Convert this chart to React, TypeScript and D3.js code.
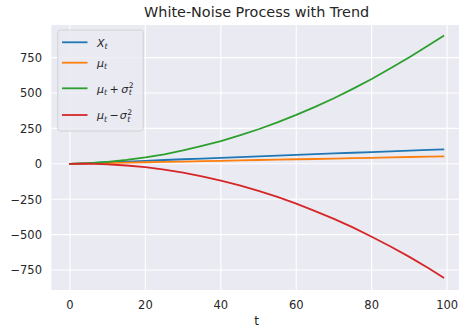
import React from "react";
import * as d3 from "d3";

const tValues = [0, 5, 10, 15, 20, 25, 30, 35, 40, 45, 50, 55, 60, 65, 70, 75, 80, 85, 90, 95, 99];
const xSeries = [0, 5, 11, 16, 21, 27, 32, 37, 42, 47, 53, 58, 63, 68, 73, 78, 83, 88, 93, 98, 102];
const muSeries = [0, 3, 5, 8, 11, 13, 16, 19, 21, 24, 27, 29, 32, 34, 37, 40, 42, 45, 48, 50, 52];
const upperSeries = [0, 5, 14, 28, 46, 67, 94, 126, 160, 200, 244, 292, 345, 402, 463, 529, 599, 674, 753, 835, 903];
const lowerSeries = [0, 1, -4, -12, -24, -41, -62, -88, -118, -152, -191, -234, -281, -334, -389, -449, -515, -584, -657, -735, -803];
const xTicks = [0, 20, 40, 60, 80, 100];
const yTicks = [-750, -500, -250, 0, 250, 500, 750];
const seriesNames = ["X_t", "mu_t", "mu_t + sigma_t^2", "mu_t - sigma_t^2"];
const colors = ["#1f77b4", "#ff7f0e", "#2ca02c", "#d62728"];

const W = 459;
const H = 330;
const left = 51.3;
const right = 462;
const top = 25;
const bottom = 290;

export default function App() {
  const x = d3.scaleLinear().domain([-4.95, 103.95]).range([left, right]);
  const y = d3.scaleLinear().domain([-891, 980]).range([bottom, top]);
  const all = [xSeries, muSeries, upperSeries, lowerSeries];
  const line = d3
    .line<[number, number]>()
    .x((d) => x(d[0]))
    .y((d) => y(d[1]));
  const font = "'DejaVu Sans', sans-serif";
  const tc = "#262626";
  const legendY = [42.3, 62.7, 88.3, 115];

  const label = (i: number, yy: number) => {
    const base = yy + 4.3;
    const fs = 11;
    const ss = 7.7;
    if (i === 0)
      return (
        <text x={97} y={base} fontFamily={font} fontSize={fs} fill={tc} fontStyle="italic">
          X<tspan fontSize={ss} dy={2.2}>t</tspan>
        </text>
      );
    if (i === 1)
      return (
        <text x={97} y={base} fontFamily={font} fontSize={fs} fill={tc} fontStyle="italic">
          μ<tspan fontSize={ss} dy={2.2}>t</tspan>
        </text>
      );
    const op = i === 2 ? "+" : "−";
    return (
      <text x={97} y={base} fontFamily={font} fontSize={fs} fill={tc} fontStyle="italic">
        μ<tspan fontSize={ss} dy={2.2}>t</tspan>
        <tspan dy={-2.2} fontStyle="normal" dx={2.5}>{op}</tspan>
        <tspan dx={i === 2 ? 2.5 : 1}>σ</tspan>
        <tspan fontSize={ss} fontStyle="normal" dy={-4.6} dx={0.5}>2</tspan>
        <tspan fontSize={ss} dy={7.2} dx={-4.9}>t</tspan>
      </text>
    );
  };

  return (
    <svg width={W} height={H} style={{ position: "fixed", left: 0, top: 0, background: "#fff" }}>
      <defs>
        <clipPath id="clip">
          <rect x={left} y={top} width={right - left} height={bottom - top} />
        </clipPath>
      </defs>
      <rect x={left} y={top} width={right - left} height={bottom - top} fill="#EAEAF2" />
      {xTicks.map((t) => (
        <line key={"gx" + t} x1={x(t)} x2={x(t)} y1={top} y2={bottom} stroke="#fff" strokeWidth={1.1} />
      ))}
      {yTicks.map((t) => (
        <line key={"gy" + t} x1={left} x2={right} y1={y(t)} y2={y(t)} stroke="#fff" strokeWidth={1.1} />
      ))}
      <g clipPath="url(#clip)">
        {all.map((s, i) => (
          <path
            key={seriesNames[i]}
            d={line(tValues.map((t, j) => [t, s[j]] as [number, number])) || ""}
            fill="none"
            stroke={colors[i]}
            strokeWidth={1.8}
            strokeLinejoin="round"
            strokeLinecap="square"
          />
        ))}
      </g>
      {xTicks.map((t) => (
        <text key={"tx" + t} x={x(t)} y={308.5} textAnchor="middle" fontFamily={font} fontSize={11.5} fill={tc}>
          {t}
        </text>
      ))}
      {yTicks.map((t) => (
        <text key={"ty" + t} x={42} y={y(t) + 4.3} textAnchor="end" fontFamily={font} fontSize={11.5} fill={tc}>
          {t < 0 ? "−" + Math.abs(t) : String(t)}
        </text>
      ))}
      <text x={(left + right) / 2} y={325} textAnchor="middle" fontFamily={font} fontSize={12} fill={tc}>
        t
      </text>
      <text x={(left + right) / 2} y={16.5} textAnchor="middle" fontFamily={font} fontSize={14.4} fill={tc}>
        White-Noise Process with Trend
      </text>
      <rect x={57.8} y={30} width={85.5} height={101} rx={2.5} fill="#EAEAF2" fillOpacity={0.8} stroke="#cccccc" strokeWidth={0.8} />
      {seriesNames.map((n, i) => (
        <g key={"lg" + n}>
          <line x1={62} x2={87.5} y1={legendY[i]} y2={legendY[i]} stroke={colors[i]} strokeWidth={1.8} />
          {label(i, legendY[i])}
        </g>
      ))}
    </svg>
  );
}
